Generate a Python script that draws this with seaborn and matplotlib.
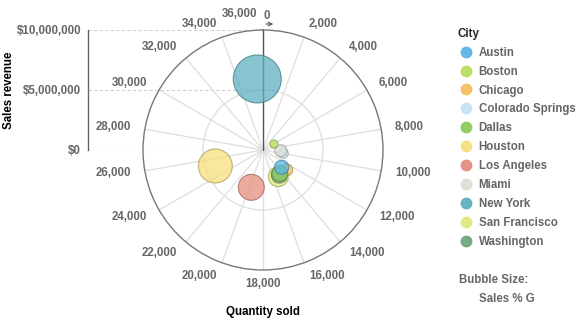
import numpy as np
import pandas as pd
import matplotlib
matplotlib.use("Agg")
import matplotlib.pyplot as plt
from matplotlib.lines import Line2D
from matplotlib.ticker import FuncFormatter
import seaborn as sns

# ---- data ----
cities = ["Austin", "Boston", "Chicago", "Colorado Springs", "Dallas", "Houston",
          "Los Angeles", "Miami", "New York", "San Francisco", "Washington"]
quantity_sold = [13280, 6140, 13020, 9920, 14390, 25150, 19740, 9230, 35540, 15020, 14690]
sales_revenue = [2120000, 1040000, 2580000, 1710000, 2400000, 4190000, 3260000, 1480000,
                 5940000, 2560000, 2490000]
sales_pct_g = [2.5, 0.8, 1.8, 1.25, 3.2, 14.5, 8.5, 1.8, 29.0, 5.0, 3.2]
colors = ["#5bb6e6", "#b8df5f", "#f7bf60", "#c8e2f2", "#8ecb5e", "#f7df7e",
          "#e48f7e", "#dfdfd6", "#5fb0c0", "#e1e97e", "#6fa77f"]
angle_ticks = list(range(0, 36000, 2000))
angle_max = 36000
revenue_ticks = [0, 5000000, 10000000]

df = pd.DataFrame({"City": cities, "Quantity": quantity_sold,
                   "Revenue": sales_revenue, "Size": sales_pct_g})
df["theta"] = df["Quantity"] / angle_max * 2 * np.pi
palette = dict(zip(cities, colors))
# outer bubbles are drawn first, inner ones on top
plot_df = df.sort_values("Revenue", ascending=False).reset_index(drop=True)

sns.set_theme(style="white")
plt.rcParams["font.family"] = ["Liberation Sans", "DejaVu Sans"]

W, H = 582, 327
FS = 8.3
fig = plt.figure(figsize=(W / 100, H / 100), dpi=100)

cx, cy, R = 263, 150, 120
GRAY = "#666666"

# left radial scale axis
ax_r = fig.add_axes([88 / W, (H - cy) / H, (cx - 88) / W, R / H])
ax_r.set_ylim(0, 10000000)
ax_r.set_xlim(0, 1)
ax_r.set_yticks(revenue_ticks)
ax_r.yaxis.set_major_formatter(FuncFormatter(lambda v, p: "${:,.0f}".format(v)))
ax_r.set_xticks([])
for s in ["top", "right", "bottom"]:
    ax_r.spines[s].set_visible(False)
ax_r.spines["left"].set_color(GRAY)
ax_r.spines["left"].set_linewidth(1)
ax_r.tick_params(axis="y", direction="in", length=4, color=GRAY, labelsize=FS,
                 labelcolor=GRAY, pad=5)
for t in ax_r.get_yticklabels():
    t.set_fontweight("bold")
ax_r.grid(axis="y", color="#d0d0d0", linestyle=(0, (3, 2)), linewidth=0.8)
ax_r.set_facecolor("none")
ax_r.set_ylabel("Sales revenue", fontsize=FS, fontweight="bold", color="black")
ax_r.yaxis.set_label_coords((15 - 88) / (cx - 88), 0.5)

# polar axes
ax = fig.add_axes([(cx - R) / W, (H - cy - R) / H, 2 * R / W, 2 * R / H], projection="polar")
ax.set_facecolor("none")
ax.set_theta_zero_location("N")
ax.set_theta_direction(-1)

sns.scatterplot(data=plot_df, x="theta", y="Revenue", hue="City", palette=palette,
                size="Size", sizes=(0, 1194), size_norm=(0, 29), alpha=0.75,
                legend=False, ax=ax, zorder=3, linewidth=0.8)
coll = ax.collections[-1]
fc = np.array([matplotlib.colors.to_rgba(c) for c in plot_df["City"].map(palette)])
ec = fc.copy()
ec[:, :3] *= 0.70
ec[:, 3] = 0.85
coll.set_edgecolors(ec)

ax.set_ylim(0, 10000000)
ax.set_xlabel("")
ax.set_ylabel("")
ax.set_rgrids([5000000], labels=[""])
ax.set_thetagrids(np.array(angle_ticks) / angle_max * 360,
                  labels=["{:,}".format(a) for a in angle_ticks])
ax.grid(True, color="#dedede", linewidth=0.9)
ax.spines["polar"].set_color("#777777")
ax.spines["polar"].set_linewidth(1)
ax.tick_params(axis="x", pad=-3, labelsize=FS, labelcolor=GRAY)
for a, t in zip(angle_ticks, ax.get_xticklabels()):
    t.set_fontweight("bold")
    deg = a / angle_max * 360
    if deg == 0:
        t.set_ha("left")
    elif deg == 180:
        t.set_ha("center")
    elif deg < 180:
        t.set_ha("left")
    else:
        t.set_ha("right")
    t.set_va("center")
ax.plot([0, 0], [0, 10000000], color="#555555", linewidth=1, zorder=2)

fig.text(257 / W, 1 - 14 / H, "36,000", ha="right", va="center", fontsize=FS,
         fontweight="bold", color=GRAY)
fig.add_artist(matplotlib.patches.FancyArrowPatch(
    (263 / W, 1 - 24 / H), (276 / W, 1 - 24 / H), transform=fig.transFigure,
    arrowstyle="->", mutation_scale=7, color="#555555", linewidth=0.8))

fig.text(cx / W, 1 - 312 / H, "Quantity sold", ha="center", va="center",
         fontsize=FS, fontweight="bold", color="black")

# legend
handles = [Line2D([0], [0], marker="o", linestyle="", markersize=7.5,
                  markerfacecolor=c, markeredgecolor=c, alpha=0.95) for c in colors]
leg = fig.legend(handles, cities, loc="upper left",
                 bbox_to_anchor=(452 / W, 1 - 22 / H), frameon=False,
                 title="City", alignment="left", fontsize=FS, title_fontsize=FS,
                 labelspacing=0.6, handletextpad=0.3, handlelength=1.5,
                 borderpad=0)
leg.get_title().set_fontweight("bold")
for t in leg.get_texts():
    t.set_color(GRAY)
    t.set_fontweight("bold")

fig.text(459 / W, 1 - 280 / H, "Bubble Size:", ha="left", va="center",
         fontsize=FS, fontweight="bold", color=GRAY)
fig.text(479 / W, 1 - 299 / H, "Sales % G", ha="left", va="center",
         fontsize=FS, fontweight="bold", color=GRAY)

fig.savefig("out.png", dpi=100)
